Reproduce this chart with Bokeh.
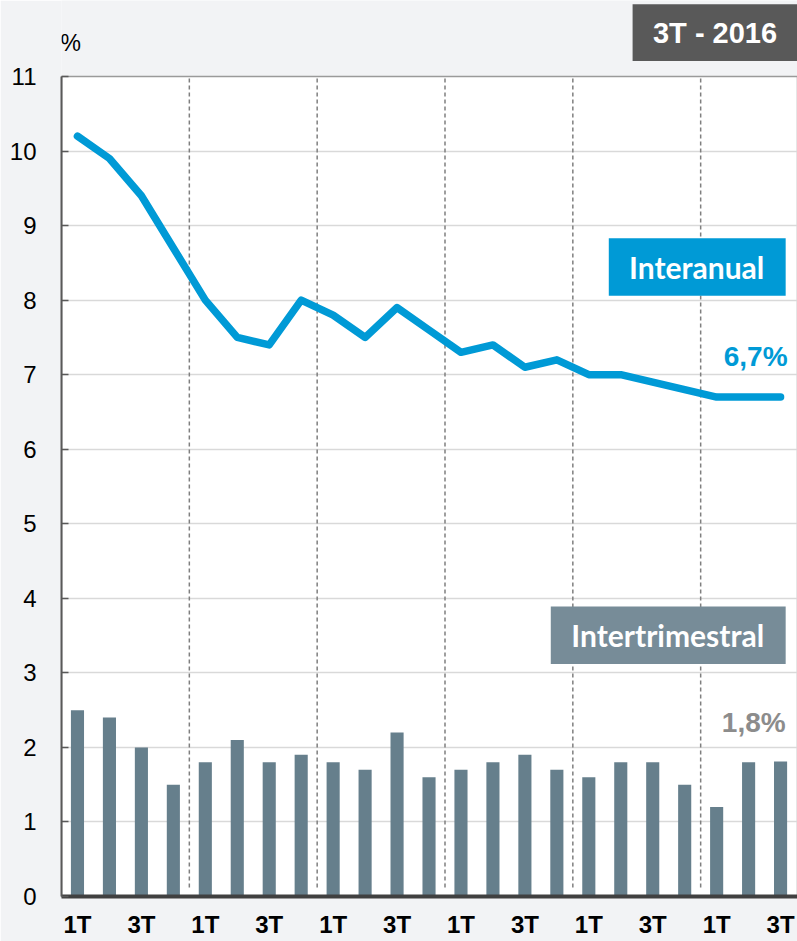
from bokeh.plotting import figure
from bokeh.models import Range1d, FixedTicker, Label, BoxAnnotation
from bokeh.embed import file_html
from bokeh.resources import INLINE

# ---- data ----
quarters = ["1T", "2T", "3T", "4T",
            "1T", "2T", "3T", "4T",
            "1T", "2T", "3T", "4T",
            "1T", "2T", "3T", "4T",
            "1T", "2T", "3T", "4T",
            "1T", "2T", "3T"]
interanual = [10.2, 9.9, 9.4, 8.7, 8.0, 7.5, 7.4, 8.0, 7.8, 7.5, 7.9, 7.6,
              7.3, 7.4, 7.1, 7.2, 7.0, 7.0, 6.9, 6.8, 6.7, 6.7, 6.7]
intertrimestral = [2.5, 2.4, 2.0, 1.5, 1.8, 2.1, 1.8, 1.9, 1.8, 1.7, 2.2, 1.6,
                   1.7, 1.8, 1.9, 1.7, 1.6, 1.8, 1.8, 1.5, 1.2, 1.8, 1.81]
year_breaks = [3.5, 7.5, 11.5, 15.5, 19.5]
y_ticks = [0, 1, 2, 3, 4, 5, 6, 7, 8, 9, 10, 11]
grid_ticks = [1, 2, 3, 4, 5, 6, 7, 8, 9, 10]
x_label_ticks = [0, 2, 4, 6, 8, 10, 12, 14, 16, 18, 20, 22]

xs = list(range(len(quarters)))

BLUE = "#009ad6"
BAR = "#667f8c"
BOXGRAY = "#778c98"
PAGE = "#f2f3f5"

X0, X1 = -0.5, 22.53
YTOP = 11.0

p = figure(width=797, height=941,
           x_range=Range1d(X0, X1), y_range=Range1d(0, 12.02),
           output_backend="svg", toolbar_location=None,
           min_border_left=61, min_border_right=0,
           min_border_top=0, min_border_bottom=45,
           background_fill_color=PAGE, border_fill_color=PAGE,
           outline_line_color=None)

# white plotting panel with its frame (top and right borders)
p.quad(left=[X0], right=[X1], bottom=[0], top=[YTOP],
       fill_color="white", line_color="#9a9a9a", line_width=1.5, level="image")

# grid
p.xgrid.visible = False
p.ygrid.ticker = FixedTicker(ticks=grid_ticks)
p.ygrid.grid_line_color = "#d9d9d9"
p.ygrid.grid_line_width = 1.5

# y axis
p.yaxis.ticker = FixedTicker(ticks=y_ticks)
p.yaxis.bounds = (0, YTOP)
p.yaxis.axis_line_color = "#595959"
p.yaxis.axis_line_width = 2
p.yaxis.major_tick_in = 7
p.yaxis.major_tick_out = 0
p.yaxis.major_tick_line_color = "#595959"
p.yaxis.major_tick_line_width = 1.5
p.yaxis.minor_tick_line_color = None
p.yaxis.major_label_text_font = "Liberation Sans"
p.yaxis.major_label_text_font_size = "24px"
p.yaxis.major_label_text_color = "black"
p.yaxis.major_label_standoff = 25

# x axis
p.xaxis.ticker = FixedTicker(ticks=x_label_ticks)
p.xaxis.major_label_overrides = {i: quarters[i] for i in x_label_ticks}
p.xaxis.major_tick_in = 0
p.xaxis.major_tick_out = 0
p.xaxis.minor_tick_line_color = None
p.xaxis.axis_line_color = "#404040"
p.xaxis.axis_line_width = 4
p.xaxis.major_label_text_font = "Liberation Sans"
p.xaxis.major_label_text_font_style = "bold"
p.xaxis.major_label_text_font_size = "24px"
p.xaxis.major_label_text_color = "black"
p.xaxis.major_label_standoff = 14

# year separators
p.segment(x0=year_breaks, y0=[0.12] * len(year_breaks),
          x1=year_breaks, y1=[YTOP] * len(year_breaks),
          line_color="#7f7f7f", line_dash="4 3", line_width=1.5)

# bars
p.vbar(x=xs, top=intertrimestral, width=0.41, fill_color=BAR, line_color=None)

# line
p.line(xs, interanual, line_width=7.5, line_color=BLUE,
       line_join="round", line_cap="round")

# "%" label
p.add_layout(Label(x=-0.53, y=11.45, text="%", text_font="Liberation Sans",
                   text_font_size="23px", text_color="black",
                   text_align="left", text_baseline="middle"))

# top period box
p.add_layout(BoxAnnotation(left=17.37, right=X1, bottom=11.21, top=11.97,
                           fill_color="#595959", fill_alpha=1, line_color=None))
p.add_layout(Label(x=19.95, y=11.58, text="3T - 2016", text_font="Liberation Sans",
                   text_font_style="bold", text_font_size="29px", text_color="white",
                   text_align="center", text_baseline="middle"))

# Interanual legend box
p.add_layout(BoxAnnotation(left=16.625, right=22.16, bottom=8.06, top=8.83,
                           fill_color=BLUE, fill_alpha=1, line_color=None))
p.add_layout(Label(x=19.375, y=8.45, text="Interanual", text_font="Lato",
                   text_font_style="bold", text_font_size="30px", text_color="white",
                   text_align="center", text_baseline="middle"))

# Intertrimestral legend box
p.add_layout(BoxAnnotation(left=14.81, right=22.16, bottom=3.12, top=3.89,
                           fill_color=BOXGRAY, fill_alpha=1, line_color=None))
p.add_layout(Label(x=18.47, y=3.51, text="Intertrimestral", text_font="Lato",
                   text_font_style="bold", text_font_size="30px", text_color="white",
                   text_align="center", text_baseline="middle"))

# last values
p.add_layout(Label(x=22.22, y=7.24, text="6,7%", text_font="Liberation Sans",
                   text_font_style="bold", text_font_size="28px", text_color=BLUE,
                   text_align="right", text_baseline="middle"))
p.add_layout(Label(x=22.16, y=2.33, text="1,8%", text_font="Liberation Sans",
                   text_font_style="bold", text_font_size="28px", text_color="#8c8c8c",
                   text_align="right", text_baseline="middle"))

open("out.html", "w").write(file_html(p, INLINE))
